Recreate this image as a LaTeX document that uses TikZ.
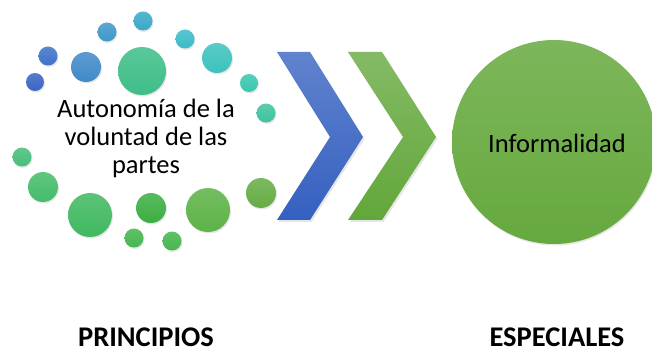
\documentclass[tikz,border=0pt]{standalone}
\usepackage{fontspec}
\setmainfont{Carlito}
\usetikzlibrary{shadows}
\definecolor{dotA}{HTML}{3A64C4}
\definecolor{dotB}{HTML}{3E72C8}
\definecolor{dotC}{HTML}{3F8AC8}
\definecolor{dotD}{HTML}{3F98C8}
\definecolor{dotE}{HTML}{3AA8C8}
\definecolor{dotF}{HTML}{3BBCC8}
\definecolor{dotG}{HTML}{3CC2BC}
\definecolor{dotH}{HTML}{3AC6AE}
\definecolor{dotI}{HTML}{3EC2A0}
\definecolor{dotJ}{HTML}{3EBE88}
\definecolor{dotK}{HTML}{46BE7A}
\definecolor{dotL}{HTML}{44BC6A}
\definecolor{dotM}{HTML}{40B860}
\definecolor{dotN}{HTML}{3CAE42}
\definecolor{dotO}{HTML}{5CB246}
\definecolor{dotP}{HTML}{66AC44}
\definecolor{dotQ}{HTML}{46B64E}
\definecolor{chevblue}{HTML}{3460C0}
\definecolor{chevgreen}{HTML}{62A73A}
\definecolor{bigball}{HTML}{66A93E}
\tikzset{
  shade/.style={top color=#1!85!white, bottom color=#1},
  dot/.style={circle, inner sep=0pt, minimum size=#1,
    drop shadow={opacity=0.2, shadow xshift=1pt, shadow yshift=-1.5pt}},
  chev/.style={top color=#1!78!white, bottom color=#1,
    drop shadow={opacity=0.2, shadow xshift=1.5pt, shadow yshift=-2pt}},
  body/.style={font=\fontsize{26.5}{28}\selectfont},
  title/.style={font=\fontsize{28.5}{30}\selectfont\bfseries},
}
\begin{document}
\begin{tikzpicture}[x=1pt, y=-1pt]
  \useasboundingbox (0,0) rectangle (652,352);
  % ring of dots
  \node[dot=19pt, shade=dotE] (d1) at (143,21) {};
  \node[dot=19pt, shade=dotD] (d2) at (107,32) {};
  \node[dot=19pt, shade=dotF] (d3) at (185,39) {};
  \node[dot=19pt, shade=dotB] (d4) at (48,56) {};
  \node[dot=30pt, shade=dotC] (d5) at (86,67) {};
  \node[dot=48pt, shade=dotJ] (d6) at (142,71) {};
  \node[dot=30pt, shade=dotG] (d7) at (217,58) {};
  \node[dot=18pt, shade=dotA] (d8) at (35,82) {};
  \node[dot=18pt, shade=dotH] (d9) at (249,83) {};
  \node[dot=19pt, shade=dotI] (d10) at (266,113) {};
  \node[dot=19pt, shade=dotK] (d11) at (22,157) {};
  \node[dot=30pt, shade=dotL] (d12) at (43,187) {};
  \node[dot=44pt, shade=dotM] (d13) at (90,215) {};
  \node[dot=30pt, shade=dotN] (d14) at (151,208) {};
  \node[dot=44pt, shade=dotO] (d15) at (208,210) {};
  \node[dot=30pt, shade=dotP] (d16) at (261,193) {};
  \node[dot=19pt, shade=dotQ] (d17) at (134,238) {};
  \node[dot=19pt, shade=dotQ] (d18) at (172,241) {};
  \node[body, align=center] (auto) at (146,138) {Autonomía de la\\voluntad de las\\partes};
  % chevrons
  \path[chev=chevblue] (277,52) -- (310,52) -- (363,137) -- (310,220)
    -- (277,220) -- (330,137) -- cycle;
  \path[chev=chevgreen] (348,52) -- (382,52) -- (436,137) -- (382,220)
    -- (348,220) -- (403,137) -- cycle;
  % result
  \node[dot=204pt, shade=bigball] (big) at (554,142) {};
  \node[body] (info) at (557,143) {Informalidad};
  \node[title] (prin) at (146,337) {PRINCIPIOS};
  \node[title] (esp) at (557,337) {ESPECIALES};
\end{tikzpicture}
\end{document}
